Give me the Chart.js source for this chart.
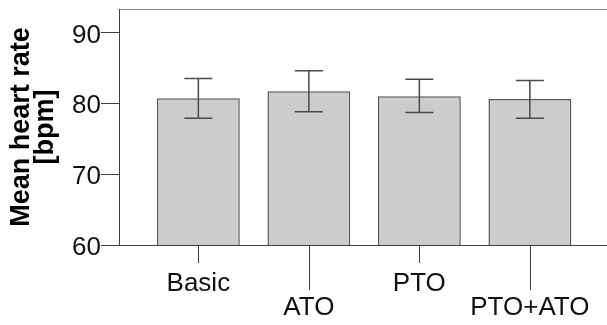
<!DOCTYPE html>
<html>
<head>
<meta charset="utf-8">
<title>Mean heart rate</title>
<script src="https://cdn.jsdelivr.net/npm/chart.js@4/dist/chart.umd.min.js"></script>
<style>
  html, body { margin: 0; padding: 0; background: #ffffff; overflow: hidden; }
  #wrap { width: 607px; height: 325px; }
</style>
</head>
<body>
<div id="wrap"><canvas id="chart" width="607" height="325"></canvas></div>
<script>
// Conditions and their mean heart rate with interval limits (bpm)
const categories = ['Basic', 'ATO', 'PTO', 'PTO+ATO'];
const meanRate   = [80.7, 81.7, 81.0, 80.6];
const ciUpper    = [83.5, 84.6, 83.4, 83.2];
const ciLower    = [77.9, 78.8, 78.7, 77.9];
const yTicks     = [60, 70, 80, 90];

const FONT = "'Liberation Sans', Arial, Helvetica, sans-serif";
const AXIS_DARK = '#3f3f3f';

// Error bars with caps, placed through the chart's scales
const errorBars = {
  id: 'errorBars',
  afterDatasetsDraw(chart) {
    const { ctx, scales: { x, y } } = chart;
    ctx.save();
    ctx.strokeStyle = '#4a4a4a';
    ctx.lineWidth = 1.5;
    const cap = 14;
    categories.forEach((_, i) => {
      const px = x.getPixelForValue(i + 1);
      const top = y.getPixelForValue(ciUpper[i]);
      const bot = y.getPixelForValue(ciLower[i]);
      ctx.beginPath();
      ctx.moveTo(px, top); ctx.lineTo(px, bot);
      ctx.moveTo(px - cap, top); ctx.lineTo(px + cap, top);
      ctx.moveTo(px - cap, bot); ctx.lineTo(px + cap, bot);
      ctx.stroke();
    });
    ctx.restore();
  }
};

// Category tick marks; every second one reaches down to its lower label row
const categoryTicks = {
  id: 'categoryTicks',
  afterDraw(chart) {
    const { ctx, scales: { x }, chartArea } = chart;
    ctx.save();
    ctx.strokeStyle = AXIS_DARK;
    ctx.lineWidth = 1;
    categories.forEach((_, i) => {
      const px = Math.round(x.getPixelForValue(i + 1)) + 0.5;
      const len = i % 2 === 1 ? 45 : 18;
      ctx.beginPath();
      ctx.moveTo(px, chartArea.bottom);
      ctx.lineTo(px, chartArea.bottom + len);
      ctx.stroke();
    });
    ctx.restore();
  }
};

new Chart(document.getElementById('chart'), {
  type: 'bar',
  data: {
    datasets: [{
      data: categories.map((c, i) => ({ x: i + 1, y: meanRate[i] })),
      backgroundColor: '#cccccc',
      borderColor: '#555555',
      borderWidth: 1.5,
      barPercentage: 0.75,
      categoryPercentage: 1.0
    }]
  },
  options: {
    responsive: false,
    animation: false,
    devicePixelRatio: 1,
    layout: { padding: { top: 9, left: 0, right: 0, bottom: 0 } },
    plugins: {
      legend: { display: false },
      tooltip: { enabled: false }
    },
    scales: {
      x: {
        type: 'linear',
        position: 'bottom',
        offset: false,
        min: 0.282,
        max: 4.698,
        afterBuildTicks(scale) {
          scale.ticks = categories.map((c, i) => ({ value: i + 1 }));
        },
        afterFit(scale) {
          scale.height = 80;
          scale.paddingLeft = 0;
          scale.paddingRight = 0;
        },
        grid: { display: false, drawTicks: false },
        border: { display: true, color: AXIS_DARK, width: 1 },
        ticks: {
          autoSkip: false,
          maxRotation: 0,
          minRotation: 0,
          padding: 27.6,
          color: '#111111',
          font: { family: FONT, size: 26, lineHeight: 0.9 },
          callback(value, index) {
            const label = categories[index];
            return index % 2 === 1 ? ['', label] : label;
          }
        }
      },
      xTop: {
        type: 'linear',
        position: 'top',
        min: 0,
        max: 1,
        afterFit(scale) { scale.height = 0; },
        grid: { display: false, drawTicks: false },
        ticks: { display: false },
        border: { display: true, color: '#808080', width: 1 }
      },
      y: {
        type: 'linear',
        position: 'left',
        min: 60,
        max: 93.3,
        afterBuildTicks(scale) {
          scale.ticks = yTicks.map(v => ({ value: v }));
        },
        afterFit(scale) {
          scale.width = 119;
          scale.paddingTop = 0;
          scale.paddingBottom = 0;
        },
        grid: {
          drawOnChartArea: false,
          drawTicks: true,
          tickLength: 18,
          color: AXIS_DARK,
          tickColor: AXIS_DARK
        },
        border: { display: true, color: AXIS_DARK, width: 1 },
        ticks: {
          padding: 0,
          labelOffset: 3,
          color: '#111111',
          font: { family: FONT, size: 26 }
        },
        title: {
          display: true,
          text: ['Mean heart rate', '[bpm]'],
          color: '#000000',
          padding: { top: 9.6, bottom: 0 },
          font: { family: FONT, size: 27, weight: 'bold', lineHeight: 0.89 }
        }
      }
    }
  },
  plugins: [errorBars, categoryTicks]
});
</script>
</body>
</html>
